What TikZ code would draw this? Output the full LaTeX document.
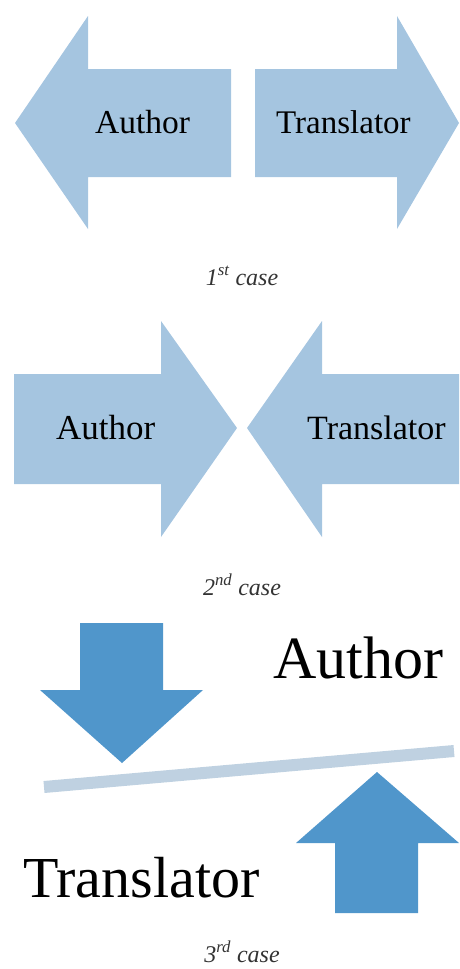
\documentclass[tikz,border=0pt]{standalone}
\usepackage{fontspec}
\setmainfont{Liberation Serif}
\begin{document}
\begin{tikzpicture}[x=1pt,y=-1pt,
  lightarrow/.style={fill=lightblue, draw=none},
  darkarrow/.style={fill=darkblue, draw=none},
  lbl/.style={inner sep=0pt, anchor=base west, text=black},
  captionlbl/.style={inner sep=0pt, anchor=base, font=\fontsize{24}{28}\selectfont\itshape, text=captext}]
\definecolor{lightblue}{HTML}{A5C5E0}
\definecolor{darkblue}{HTML}{5096CB}
\definecolor{barblue}{HTML}{BFD1E1}
\definecolor{captext}{HTML}{333333}
\useasboundingbox (0,0) rectangle (459,969);
% case 1
\fill[lightarrow] (15,123) -- (88,16) -- (88,69) -- (231,69) -- (231,177) -- (88,177) -- (88,229) -- cycle;
\fill[lightarrow] (255,69) -- (397,69) -- (397,16) -- (459,123) -- (397,229) -- (397,177) -- (255,177) -- cycle;
\node[lbl, font=\fontsize{33.5}{38}\selectfont] (a1) at (95,133) {Author};
\node[lbl, font=\fontsize{33}{38}\selectfont] (t1) at (276,133) {Translator};
\node[captionlbl] (c1) at (242,285) {1\textsuperscript{st} case};
% case 2
\fill[lightarrow] (14,374) -- (161,374) -- (161,321) -- (237,428) -- (161,537) -- (161,484) -- (14,484) -- cycle;
\fill[lightarrow] (459,374) -- (322,374) -- (322,321) -- (247,428) -- (322,537) -- (322,484) -- (459,484) -- cycle;
\node[lbl, font=\fontsize{35}{40}\selectfont] (a2) at (56,439) {Author};
\node[lbl, font=\fontsize{34}{40}\selectfont] (t2) at (307,439) {Translator};
\node[captionlbl] (c2) at (242,595) {2\textsuperscript{nd} case};
% case 3
\fill[darkarrow] (80,623) -- (163,623) -- (163,690) -- (203,690) -- (122,763) -- (40,690) -- (80,690) -- cycle;
\fill[darkarrow] (377,772) -- (459,843) -- (418,843) -- (418,913) -- (335,913) -- (335,843) -- (296,843) -- cycle;
\coordinate (b1) at (44,787);
\coordinate (b2) at (454,751);
\draw[barblue, line width=12pt] (b1) -- (b2);
\node[lbl, font=\fontsize{60}{66}\selectfont] (a3) at (273,678) {Author};
\node[lbl, font=\fontsize{58}{64}\selectfont] (t3) at (23,897) {Translator};
\node[captionlbl] (c3) at (242,962) {3\textsuperscript{rd} case};
\end{tikzpicture}
\end{document}
